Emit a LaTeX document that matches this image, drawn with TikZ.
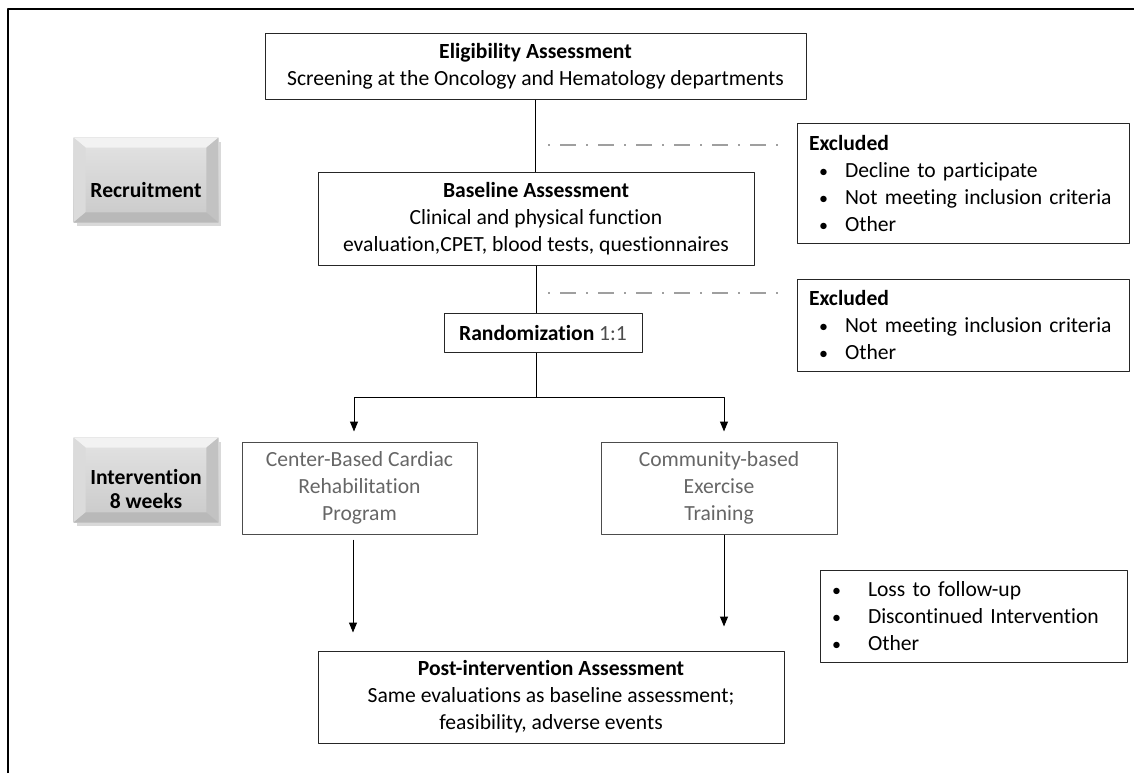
\documentclass[tikz,border=0pt]{standalone}
\usepackage{fontspec}
\setmainfont{Carlito}[Ligatures={NoCommon,NoRequired}]
\usetikzlibrary{arrows.meta,backgrounds,positioning}

\tikzset{
  box/.style={draw=black!85, line width=0.5pt, align=center, inner sep=0pt},
  armbox/.style={box, draw=black!70, text=black!60, minimum height=46pt},
  exclbox/.style={draw=black!85, line width=0.5pt, align=left, inner xsep=6pt, inner ysep=0pt},
  arr/.style={-{Triangle[width=4pt,length=5pt]}, line width=0.5pt},
  dashdot/.style={draw=gray!75, line width=1pt, dash pattern=on 1pt off 5pt on 8pt off 5pt},
  phase/.style={minimum width=72pt, minimum height=42pt, inner sep=0pt},
  phasetext/.style={font=\fontsize{10.8}{13.5}\selectfont\bfseries, align=center, inner sep=0pt},
}
\newcommand{\bul}[2]{\makebox[#1][l]{\small\textbullet}#2}
\newcommand{\bevel}[1]{%
  \fill[black!15] ([shift={(1.5pt,-2pt)}]#1.south west) rectangle ([shift={(1.5pt,-2pt)}]#1.north east);
  \shade[top color=gray!22, bottom color=gray!42] (#1.south west) rectangle (#1.north east);
  \fill[gray!10] (#1.north west) -- (#1.north east) -- ([shift={(-6pt,-5pt)}]#1.north east) -- ([shift={(6pt,-5pt)}]#1.north west) -- cycle;
  \fill[gray!28] (#1.north west) -- ([shift={(6pt,-5pt)}]#1.north west) -- ([shift={(6pt,5pt)}]#1.south west) -- (#1.south west) -- cycle;
  \fill[gray!48] (#1.north east) -- ([shift={(-6pt,-5pt)}]#1.north east) -- ([shift={(-6pt,5pt)}]#1.south east) -- (#1.south east) -- cycle;
  \fill[gray!55] (#1.south west) -- ([shift={(6pt,5pt)}]#1.south west) -- ([shift={(-6pt,5pt)}]#1.south east) -- (#1.south east) -- cycle;
}

\begin{document}
\begin{tikzpicture}[x=0.5pt,y=-0.5pt,line join=round,font=\fontsize{10.8}{13.5}\selectfont]
  \useasboundingbox (0,0) rectangle (1134,773);
  \draw[line width=0.6pt] (8,773) -- (8,9) -- (1134,9);

  % phases
  \node[phase] (recruit) at (146,180) {};
  \node[phase] (interv) at (146,480) {};
  \begin{scope}[on background layer]
    \bevel{recruit}
    \bevel{interv}
  \end{scope}
  \node[phasetext] (recruitlbl) at (146,190) {Recruitment};
  \node[phasetext] (intervlbl) at (146,489) {Intervention\\[-1.5pt]8 weeks};

  % main flow
  \node[box, minimum width=270.5pt, minimum height=33pt] (elig) at (535.5,66)
    {\textbf{Eligibility Assessment}\\Screening at the Oncology and Hematology departments};
  \node[box, minimum width=218pt, minimum height=46.5pt] (base) at (536,218.5)
    {\textbf{Baseline Assessment}\\Clinical and physical function\\evaluation,CPET, blood tests, questionnaires};
  \node[box, minimum width=99pt, minimum height=19.5pt] (rand) at (543,332.5)
    {\textbf{Randomization} {\color{black!70}1:1}};
  \node[armbox, minimum width=117.5pt] (cb) at (359.5,488)
    {Center-Based Cardiac\\Rehabilitation\\Program};
  \node[armbox, minimum width=118pt] (comm) at (719,488)
    {Community-based\\Exercise\\Training};
  \node[box, minimum width=233pt, minimum height=46pt] (post) at (551,697)
    {\textbf{Post-intervention Assessment}\\Same evaluations as baseline assessment;\\feasibility, adverse events};

  % exclusions
  \node[exclbox, text width=154pt, minimum height=60pt] (excl1) at (963,183)
    {\textbf{Excluded}\\
     \hspace*{5pt}\bul{13pt}{Decline to participate}\\
     \hspace*{5pt}\bul{13pt}{Not meeting inclusion criteria}\\
     \hspace*{5pt}\bul{13pt}{Other}};
  \node[exclbox, text width=154pt, minimum height=46pt] (excl2) at (963,325)
    {\textbf{Excluded}\\
     \hspace*{5pt}\bul{13pt}{Not meeting inclusion criteria}\\
     \hspace*{5pt}\bul{13pt}{Other}};
  \node[exclbox, text width=141.5pt, minimum height=46pt] (loss) at (973.5,616)
    {\bul{18pt}{Loss to follow-up}\\
     \bul{18pt}{Discontinued Intervention}\\
     \bul{18pt}{Other}};

  % connectors
  \draw[line width=0.5pt] (elig.south) -- (elig.south |- base.north);
  \draw[line width=0.5pt] (base.south) -- (base.south |- rand.north);
  \draw[line width=0.5pt] (rand.south -| base.south) -- ++(0,45) coordinate (split);
  \draw[arr, shorten >=5pt] (split) -| ([xshift=-2.75pt]cb.north);
  \draw[arr, shorten >=5pt] (split) -| ([xshift=2.5pt]comm.north);
  \draw[arr, shorten <=2.5pt, shorten >=9pt] ([xshift=-3.25pt]cb.south) -- ([xshift=-3.25pt]cb.south |- post.north);
  \draw[arr, shorten >=12pt] ([xshift=2.5pt]comm.south) -- ([xshift=2.5pt]comm.south |- post.north);

  \coordinate (d1) at (548,145);
  \coordinate (d2) at (548,293);
  \draw[dashdot, shorten >=5pt] (d1) -- (d1 -| excl1.west);
  \draw[dashdot, shorten >=5pt] (d2) -- (d2 -| excl2.west);
\end{tikzpicture}
\end{document}
